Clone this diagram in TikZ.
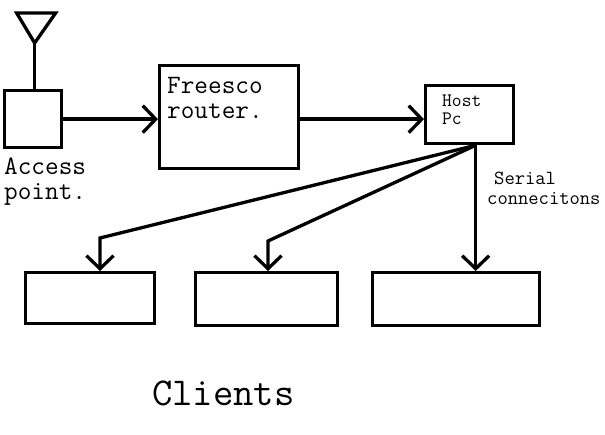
\documentclass[tikz,border=0pt]{standalone}
\usepackage{fontspec}
\usetikzlibrary{arrows.meta}

\begin{document}
\begin{tikzpicture}[x=1pt,y=-1pt,
  line/.style={line width=3.3pt},
  box/.style={draw,line width=3.3pt,inner sep=0pt,anchor=north west},
  conn/.style={line width=3.3pt,-{Straight Barb[length=13pt,width=27pt]}},
  txt/.style={inner sep=0pt,anchor=north west,align=left,font=\ttfamily\fontsize{26.5}{25}\selectfont}]
\useasboundingbox[fill=white] (0,0) rectangle (605,435);

% Access point with antenna
\node[box,minimum width=57pt,minimum height=57pt] (ap) at (3,89) {};
\draw[line] ([xshift=1.5pt]ap.north) -- ++(0,-46) coordinate (apex);
\draw[line] (apex) -- ++(-18,-30) -- ++(39,0) -- cycle;
\node[txt] (aptext) at (4,158) {Access\\point.};

% Router and host
\node[box,minimum width=139pt,minimum height=103pt] (fr) at (158,64) {};
\node[txt] (frtext) at (167,77) {Freesco\\router.};
\node[box,minimum width=88pt,minimum height=58pt] (host) at (424,84) {};
\node[txt,font=\ttfamily\fontsize{19}{18}\selectfont] (hosttext) at (442,95) {Host\\Pc};

% Clients
\node[box,minimum width=129pt,minimum height=51pt] (c1) at (24,271) {};
\node[box,minimum width=142pt,minimum height=53pt] (c2) at (194,271) {};
\node[box,minimum width=167pt,minimum height=53pt] (c3) at (371,271) {};
\node[txt,font=\ttfamily\fontsize{39.5}{40}\selectfont] (clients) at (152,381) {Clients};

% Arrows
\draw[conn] (ap.east) -- (ap.east -| fr.west);
\draw[conn] (fr.east |- ap.east) -- (host.west |- ap.east);

% Serial lines
\coordinate (hub) at ([xshift=6pt]host.south);
\coordinate (b1) at (100,238);
\coordinate (b2) at (268,241);
\draw[conn] (hub) -- (b1) -- (b1 |- c1.north);
\draw[conn] (hub) -- (b2) -- (b2 |- c2.north);
\draw[conn] (hub) -- (hub |- c3.north);
\node[txt,font=\ttfamily\fontsize{20}{20}\selectfont] (serial) at (487,172) {\hspace*{7pt}Serial\\connecitons};
\end{tikzpicture}
\end{document}
